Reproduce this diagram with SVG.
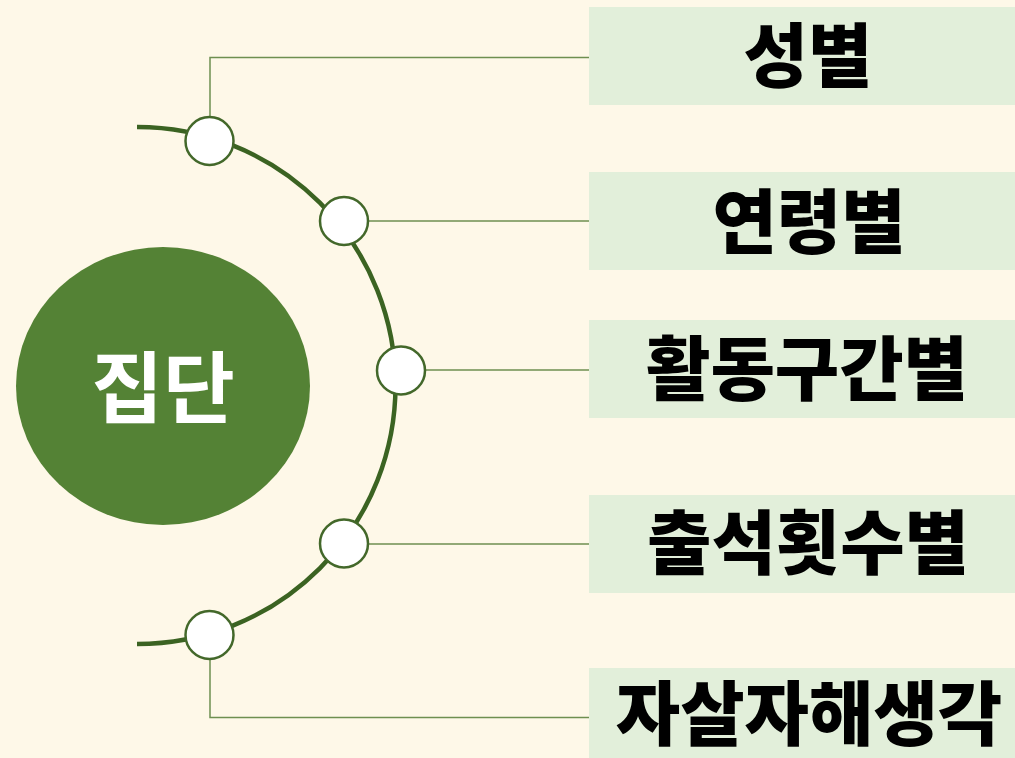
<svg xmlns="http://www.w3.org/2000/svg" width="1015" height="758" viewBox="0 0 1015 758">
  <style>
    .box { fill: #E2EFDA; }
    .lbl { font-family: "Noto Sans CJK KR", "Noto Sans", sans-serif; font-weight: 900; font-size: 70px; fill: #000000; text-anchor: middle; }
    .dot { fill: #FFFFFF; stroke: #43682A; stroke-width: 2.5; }
    .conn { fill: none; stroke: #6E8F50; stroke-width: 1.5; }
  </style>
  <rect x="0" y="0" width="1015" height="758" fill="#FEF8E8"/>

  <g id="connectors">
    <path class="conn" d="M210,117 V57.5 H590"/>
    <path class="conn" d="M368,221 H590"/>
    <path class="conn" d="M425,370 H590"/>
    <path class="conn" d="M368,544 H590"/>
    <path class="conn" d="M210,660 V717.5 H590"/>
  </g>

  <g id="arc">
    <path d="M137,127 A258.5,258.5 0 1 1 137,644" fill="none" stroke="#3B6322" stroke-width="4.5"/>
  </g>

  <g id="center">
    <ellipse cx="163" cy="386" rx="147" ry="139" fill="#548235"/>
    <text x="163" y="417" font-family="'Noto Sans CJK KR', 'Noto Sans', sans-serif" font-weight="700" font-size="78" fill="#FFFFFF" text-anchor="middle">집단</text>
  </g>

  <g id="dot1"><circle class="dot" cx="209.5" cy="141" r="24"/></g>
  <g id="dot2"><circle class="dot" cx="344" cy="221" r="24"/></g>
  <g id="dot3"><circle class="dot" cx="401" cy="370.5" r="24"/></g>
  <g id="dot4"><circle class="dot" cx="344" cy="543.5" r="24"/></g>
  <g id="dot5"><circle class="dot" cx="209.5" cy="635" r="24"/></g>

  <g id="node-gender">
    <rect class="box" x="589" y="7" width="426" height="98"/>
    <text class="lbl" x="808" y="82">성별</text>
  </g>
  <g id="node-age">
    <rect class="box" x="589" y="172" width="426" height="98"/>
    <text class="lbl" x="809" y="248">연령별</text>
  </g>
  <g id="node-activity">
    <rect class="box" x="589" y="320" width="426" height="98"/>
    <text class="lbl" x="807" y="395">활동구간별</text>
  </g>
  <g id="node-attendance">
    <rect class="box" x="589" y="495" width="426" height="98"/>
    <text class="lbl" x="808" y="569">출석횟수별</text>
  </g>
  <g id="node-suicide">
    <rect class="box" x="589" y="668" width="426" height="90"/>
    <text class="lbl" x="809" y="740">자살자해생각</text>
  </g>
</svg>
